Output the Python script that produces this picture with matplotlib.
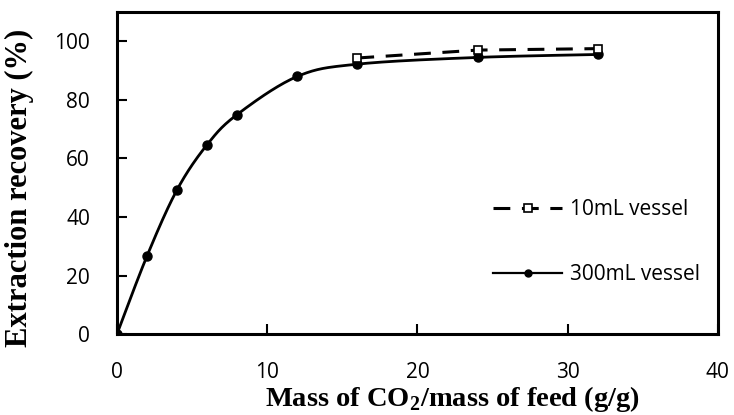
import numpy as np
import matplotlib.pyplot as plt

# data
x_300 = [0, 2, 4, 6, 8, 12, 16, 24, 32]
y_300 = [0, 26.7, 49.3, 64.7, 75.0, 88.0, 92.2, 94.5, 95.5]
x_10 = [16, 24, 32]
y_10 = [94.3, 97.0, 97.5]

plt.rcParams['mathtext.fontset'] = 'custom'
plt.rcParams['mathtext.rm'] = 'Liberation Serif:bold'
plt.rcParams['mathtext.bf'] = 'Liberation Serif:bold'


def smooth(xs, ys, n=30):
    # Catmull-Rom style smoothing, similar to Excel "smoothed line"
    p = np.column_stack([xs, ys]).astype(float)
    p = np.vstack([p[0], p, p[-1]])
    out = []
    for i in range(1, len(p) - 2):
        p0, p1, p2, p3 = p[i - 1], p[i], p[i + 1], p[i + 2]
        t = np.linspace(0, 1, n)[:, None]
        c1 = p1 + (p2 - p0) / 6
        c2 = p2 - (p3 - p1) / 6
        seg = ((1 - t) ** 3) * p1 + 3 * ((1 - t) ** 2) * t * c1 + 3 * (1 - t) * t ** 2 * c2 + t ** 3 * p2
        out.append(seg)
    out = np.vstack(out)
    return out[:, 0], out[:, 1]


fig, ax = plt.subplots(figsize=(7.34, 4.15), dpi=100)
fig.subplots_adjust(left=0.1594, right=0.978, bottom=0.195, top=0.971)

sx, sy = smooth(x_300, y_300)
ax.plot(sx, sy, color='black', linewidth=2.0)
ax.plot(x_300, y_300, linestyle='none', marker='o', color='black', markersize=6.5)
ax.plot(x_10, y_10, linestyle=(0, (5.5, 3.8)), color='black', linewidth=2.2,
        marker='s', markersize=5.5, markerfacecolor='white', markeredgecolor='black',
        markeredgewidth=1.2, label='10mL vessel')
ax.plot([], [], color='black', linewidth=1.6, marker='o', markersize=5, label='300mL vessel')

ax.set_xlim(0, 40)
ax.set_ylim(0, 110)
ax.set_xticks([0, 10, 20, 30, 40])
ax.set_yticks([0, 20, 40, 60, 80, 100])
ax.tick_params(direction='in', length=7, width=1.5, labelsize=15)
ax.tick_params(axis='x', pad=20)
ax.tick_params(axis='y', pad=19.5)
for lbl in ax.get_xticklabels() + ax.get_yticklabels():
    lbl.set_fontfamily('Open Sans')
for s in ax.spines.values():
    s.set_linewidth(2.2)

ax.set_xlabel('Mass of CO$_\\mathbf{2}$/mass of feed (g/g)', fontfamily='Liberation Serif',
              fontweight='bold', fontsize=20.5)
ax.set_ylabel('Extraction recovery (%)', fontfamily='Liberation Serif',
              fontweight='bold', fontsize=22)
ax.xaxis.label.set_va('baseline')
ax.xaxis.set_label_coords(0.558, -0.222)
ax.yaxis.label.set_va('center')
ax.yaxis.set_label_coords(-0.163, 0.455)

ax.legend(loc='center left', bbox_to_anchor=(0.626, 0.286), frameon=False,
          prop={'family': 'Open Sans', 'size': 15}, handlelength=3.3, labelspacing=2.1,
          handletextpad=0.4, borderaxespad=0, borderpad=0)

fig.savefig('out.png')
